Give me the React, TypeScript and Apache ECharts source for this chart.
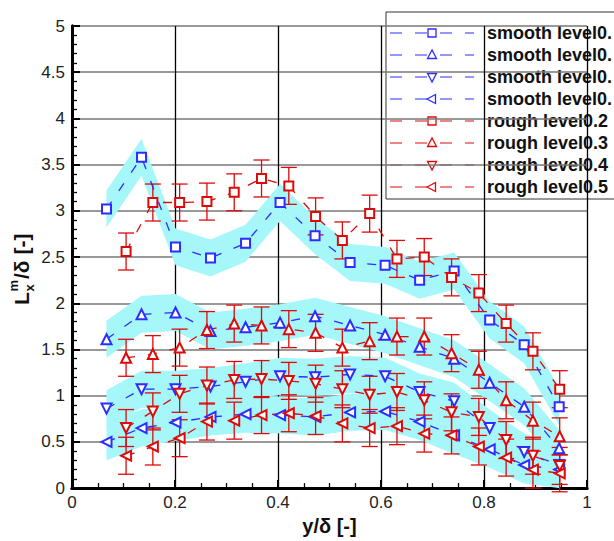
import React, { useEffect, useRef } from "react";
import * as echarts from "echarts";

// ---- data ----
const smoothX = [0.067, 0.135, 0.201, 0.269, 0.337, 0.404, 0.472, 0.54, 0.608, 0.675, 0.742, 0.811, 0.878, 0.946];
const smoothSquare = [3.02, 3.58, 2.61, 2.49, 2.65, 3.09, 2.73, 2.44, 2.41, 2.25, 2.35, 1.82, 1.55, 0.88];
const smoothUp = [1.61, 1.88, 1.9, 1.7, 1.74, 1.79, 1.86, 1.76, 1.66, 1.53, 1.4, 1.14, 0.88, 0.43];
const smoothDown = [0.86, 1.07, 1.07, 1.1, 1.15, 1.21, 1.2, 1.23, 1.21, 1.04, 0.94, 0.65, 0.39, 0.25];
const smoothLeft = [0.5, 0.65, 0.71, 0.77, 0.8, 0.79, 0.77, 0.82, 0.83, 0.72, 0.57, 0.42, 0.25, 0.2];
const smoothBandHalf = [0.2, 0.2, 0.2, 0.2, 0.2, 0.2, 0.2, 0.2, 0.2, 0.2, 0.2, 0.2, 0.2, 0.2];

const roughX = [0.105, 0.157, 0.209, 0.262, 0.315, 0.368, 0.421, 0.473, 0.525, 0.578, 0.631, 0.684, 0.737, 0.79, 0.843, 0.895, 0.947];
const roughSquare = [2.56, 3.09, 3.09, 3.1, 3.2, 3.35, 3.27, 2.94, 2.68, 2.97, 2.48, 2.5, 2.28, 2.11, 1.78, 1.48, 1.07];
const roughUp = [1.41, 1.45, 1.52, 1.71, 1.78, 1.76, 1.72, 1.68, 1.52, 1.59, 1.64, 1.64, 1.46, 1.28, 0.95, 0.73, 0.56];
const roughDown = [0.65, 0.83, 1.02, 1.11, 1.17, 1.18, 1.16, 1.13, 1.07, 1.01, 1.04, 0.95, 0.82, 0.77, 0.52, 0.35, 0.24];
const roughLeft = [0.35, 0.45, 0.54, 0.72, 0.73, 0.79, 0.81, 0.78, 0.7, 0.65, 0.67, 0.59, 0.57, 0.45, 0.33, 0.2, 0.16];
const roughErr = [0.2, 0.2, 0.2, 0.2, 0.2, 0.2, 0.2, 0.2, 0.2, 0.2, 0.2, 0.2, 0.2, 0.2, 0.2, 0.2, 0.2];

const legendLabels = [
  "smooth level0.", "smooth level0.", "smooth level0.", "smooth level0.",
  "rough level0.2", "rough level0.3", "rough level0.4", "rough level0.5",
];
const xTicks = { min: 0, max: 1, interval: 0.2 };
const yTicks = { min: 0, max: 5, interval: 0.5 };

// ---- styles ----
const BLUE = "#2d2dff";
const RED = "#dd0a0a";
const CYAN = "#a6f7f9";
const FONT = "'Liberation Sans', Arial, sans-serif";
const DASH = [9, 13];

type Shape = "square" | "up" | "down" | "left";
const symbolOf: Record<Shape, { symbol: string; rotate: number }> = {
  square: { symbol: "emptyRect", rotate: 0 },
  up: { symbol: "emptyTriangle", rotate: 0 },
  down: { symbol: "emptyTriangle", rotate: 180 },
  left: { symbol: "emptyTriangle", rotate: 90 },
};

function bandSeries(xs: number[], ys: number[], half: number[]) {
  return {
    type: "custom",
    silent: true,
    clip: true,
    z: 1,
    data: xs.map((x, i) => [x, ys[i]]),
    renderItem: (params: any, api: any) => {
      if (params.dataIndex !== 0) return null;
      const upper = xs.map((x, i) => api.coord([x, ys[i] + half[i]]));
      const lower = xs.map((x, i) => api.coord([x, ys[i] - half[i]])).reverse();
      return {
        type: "polygon",
        shape: { points: upper.concat(lower) },
        style: { fill: CYAN, stroke: null },
      };
    },
  };
}

function errorSeries(xs: number[], ys: number[], errs: number[]) {
  return {
    type: "custom",
    silent: true,
    z: 2,
    data: xs.map((x, i) => [x, ys[i], errs[i]]),
    renderItem: (params: any, api: any) => {
      const x = api.value(0);
      const y = api.value(1);
      const e = api.value(2);
      const top = api.coord([x, y + e]);
      const bot = api.coord([x, y - e]);
      const cw = 8;
      const st = { stroke: RED, lineWidth: 1.3 };
      return {
        type: "group",
        children: [
          { type: "line", shape: { x1: top[0], y1: top[1], x2: bot[0], y2: bot[1] }, style: st },
          { type: "line", shape: { x1: top[0] - cw, y1: top[1], x2: top[0] + cw, y2: top[1] }, style: st },
          { type: "line", shape: { x1: bot[0] - cw, y1: bot[1], x2: bot[0] + cw, y2: bot[1] }, style: st },
        ],
      };
    },
  };
}

function lineSeries(name: string, xs: number[], ys: number[], color: string, shape: Shape) {
  return {
    type: "line",
    name,
    z: 3,
    data: xs.map((x, i) => [x, ys[i]]),
    symbol: symbolOf[shape].symbol,
    symbolRotate: symbolOf[shape].rotate,
    symbolSize: shape === "square" ? 9 : 10,
    showAllSymbol: true,
    lineStyle: { color, width: 1.3, type: DASH },
    itemStyle: { color, borderWidth: 1.3 },
  };
}

function legendGraphic() {
  const x0 = 386, y0 = 12;
  const children: any[] = [
    { type: "rect", shape: { x: x0, y: y0, width: 240, height: 187 }, style: { fill: "#fff", stroke: "#333", lineWidth: 1 } },
  ];
  const shapes: Shape[] = ["square", "up", "down", "left", "square", "up", "down", "left"];
  legendLabels.forEach((label, i) => {
    const cy = 33 + 22 * i;
    const color = i < 4 ? BLUE : RED;
    const cx = 432;
    children.push({
      type: "line",
      shape: { x1: 390, y1: cy, x2: 474, y2: cy },
      style: { stroke: color, lineWidth: 1.2, lineDash: [12, 13] },
    });
    const mStyle = { stroke: color, fill: "#fff", lineWidth: 1.3 };
    const s = shapes[i];
    if (s === "square") {
      children.push({ type: "rect", shape: { x: cx - 4, y: cy - 4, width: 8, height: 8 }, style: mStyle });
    } else if (s === "up") {
      children.push({ type: "polygon", shape: { points: [[cx, cy - 5], [cx - 4.5, cy + 3.5], [cx + 4.5, cy + 3.5]] }, style: mStyle });
    } else if (s === "down") {
      children.push({ type: "polygon", shape: { points: [[cx, cy + 5], [cx - 4.5, cy - 3.5], [cx + 4.5, cy - 3.5]] }, style: mStyle });
    } else {
      children.push({ type: "polygon", shape: { points: [[cx - 5, cy], [cx + 3.5, cy - 4.5], [cx + 3.5, cy + 4.5]] }, style: mStyle });
    }
    children.push({
      type: "text",
      x: 487,
      y: cy,
      style: { text: label, font: `bold 18px ${FONT}`, fill: "#111", verticalAlign: "middle", align: "left" },
    });
  });
  return { type: "group", z: 100, children };
}

function yTitleGraphic() {
  return {
    type: "group",
    x: 21,
    y: 268,
    rotation: Math.PI / 2,
    z: 100,
    children: [
      { type: "text", x: -37, y: 0, style: { text: "L", font: `bold 21px ${FONT}`, fill: "#111", verticalAlign: "middle" } },
      { type: "text", x: -23.5, y: -8, style: { text: "m", font: `bold 13px ${FONT}`, fill: "#111", verticalAlign: "middle" } },
      { type: "text", x: -23.5, y: 8, style: { text: "x", font: `bold 13px ${FONT}`, fill: "#111", verticalAlign: "middle" } },
      { type: "text", x: -11, y: 0, style: { text: "/δ [-]", font: `bold 21px ${FONT}`, fill: "#111", verticalAlign: "middle" } },
    ],
  };
}

export default function App() {
  const ref = useRef<HTMLDivElement>(null);
  useEffect(() => {
    if (!ref.current) return;
    const chart = echarts.init(ref.current, undefined, { renderer: "svg" });
    const axisLabel = { fontSize: 17, color: "#222", fontFamily: FONT };
    chart.setOption({
      animation: false,
      backgroundColor: "#fff",
      grid: { left: 72, top: 26, width: 515, height: 471, containLabel: false },
      xAxis: [
        {
          type: "value",
          min: xTicks.min, max: xTicks.max, interval: xTicks.interval,
          axisLine: { show: true, lineStyle: { color: "#000", width: 3 } },
          axisTick: { show: true, inside: true, length: 8, lineStyle: { color: "#000", width: 2 } },
          minorTick: { show: true, splitNumber: 4, length: 5, lineStyle: { color: "#000", width: 1.3 } },
          splitLine: { show: true, lineStyle: { color: "#000", width: 1.3 } },
          axisLabel: { ...axisLabel, margin: 6 },
          name: "y/δ [-]",
          nameLocation: "middle",
          nameGap: 27,
          nameTextStyle: { fontSize: 20, fontWeight: "bold", color: "#111", fontFamily: FONT },
        },
        {
          type: "value", position: "top",
          min: xTicks.min, max: xTicks.max, interval: xTicks.interval,
          axisLine: { show: true, lineStyle: { color: "#000", width: 3 } },
          axisTick: { show: false }, axisLabel: { show: false }, splitLine: { show: false },
        },
      ],
      yAxis: [
        {
          type: "value",
          min: yTicks.min, max: yTicks.max, interval: yTicks.interval,
          axisLine: { show: true, lineStyle: { color: "#000", width: 3 } },
          axisTick: { show: true, inside: true, length: 8, lineStyle: { color: "#000", width: 2 } },
          minorTick: { show: true, splitNumber: 5, length: 5, lineStyle: { color: "#000", width: 1.3 } },
          splitLine: { show: true, lineStyle: { color: "#777", width: 1.5 } },
          axisLabel: { ...axisLabel, margin: 7 },
        },
        {
          type: "value", position: "right",
          min: yTicks.min, max: yTicks.max, interval: yTicks.interval,
          axisLine: { show: true, lineStyle: { color: "#000", width: 3 } },
          axisTick: { show: false }, axisLabel: { show: false }, splitLine: { show: false },
        },
      ],
      series: [
        bandSeries(smoothX, smoothSquare, smoothBandHalf),
        bandSeries(smoothX, smoothUp, smoothBandHalf),
        bandSeries(smoothX, smoothDown, smoothBandHalf),
        bandSeries(smoothX, smoothLeft, smoothBandHalf),
        errorSeries(roughX, roughSquare, roughErr),
        errorSeries(roughX, roughUp, roughErr),
        errorSeries(roughX, roughDown, roughErr),
        errorSeries(roughX, roughLeft, roughErr),
        lineSeries("smooth square", smoothX, smoothSquare, BLUE, "square"),
        lineSeries("smooth up", smoothX, smoothUp, BLUE, "up"),
        lineSeries("smooth down", smoothX, smoothDown, BLUE, "down"),
        lineSeries("smooth left", smoothX, smoothLeft, BLUE, "left"),
        lineSeries("rough level0.2", roughX, roughSquare, RED, "square"),
        lineSeries("rough level0.3", roughX, roughUp, RED, "up"),
        lineSeries("rough level0.4", roughX, roughDown, RED, "down"),
        lineSeries("rough level0.5", roughX, roughLeft, RED, "left"),
      ],
      graphic: [legendGraphic(), yTitleGraphic()],
    });
    return () => chart.dispose();
  }, []);
  return <div ref={ref} style={{ position: "fixed", left: 0, top: 0, width: 614, height: 541 }} />;
}
